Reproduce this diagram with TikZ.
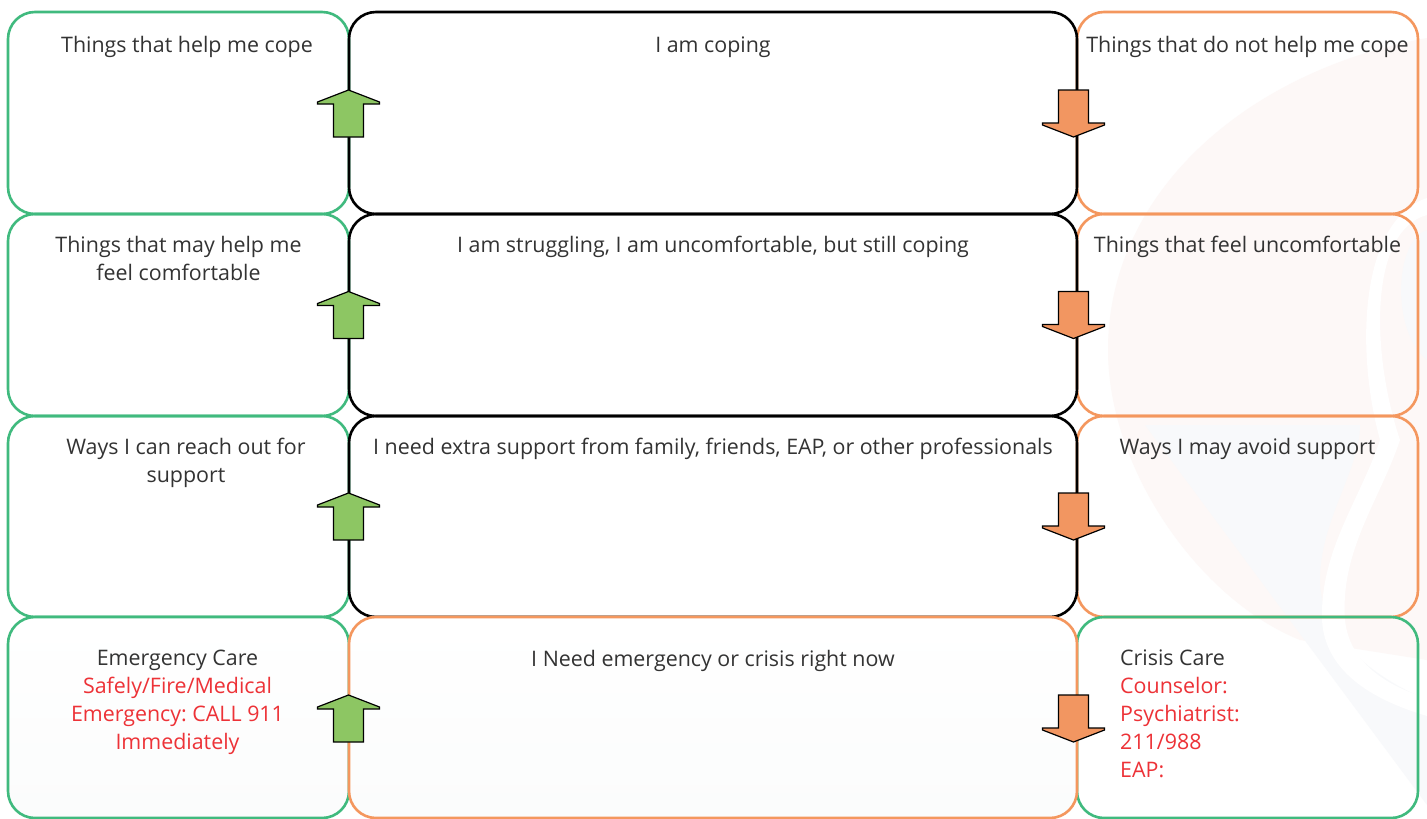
\documentclass[tikz,border=0pt]{standalone}
\usepackage{fontspec}
\setmainfont{Open Sans}
\definecolor{gbord}{RGB}{64,186,126}
\definecolor{obord}{RGB}{244,151,94}
\definecolor{gfill}{RGB}{141,198,99}
\definecolor{ofill}{RGB}{242,150,97}
\definecolor{txt}{RGB}{51,51,51}
\definecolor{redtxt}{RGB}{237,50,55}
\definecolor{pinkbg}{RGB}{253,248,247}
\definecolor{bluebg}{RGB}{248,249,251}
\definecolor{lowgray}{RGB}{251,252,252}
\tikzset{
  cell/.style={rounded corners=27pt, line width=2.6pt, inner sep=0pt, outer sep=0pt},
  sidecell/.style={cell, minimum width=341pt},
  midcell/.style={cell, minimum width=728pt, draw=black},
  lbl/.style={font=\fontsize{21.4}{27.8}\selectfont\frenchspacing, text=txt, inner sep=0pt, align=center, anchor=base},
  uparrow/.style={fill=gfill, draw=black, line width=1.2pt, line join=miter},
  downarrow/.style={fill=ofill, draw=black, line width=1.2pt, line join=miter}
}
\newcommand{\UpArr}[2]{%
  \draw[uparrow] (#1,#2) -- (#1+31,#2+12) -- (#1+31,#2+14) -- (#1+15,#2+14) -- (#1+15,#2+47)
   -- (#1-15,#2+47) -- (#1-15,#2+14) -- (#1-31,#2+14) -- (#1-31,#2+12) -- cycle;}
\newcommand{\DownArr}[2]{%
  \draw[downarrow] (#1,#2+47) -- (#1+31,#2+35) -- (#1+31,#2+33) -- (#1+15,#2+33) -- (#1+15,#2)
   -- (#1-15,#2) -- (#1-15,#2+33) -- (#1-31,#2+33) -- (#1-31,#2+35) -- cycle;}
\begin{document}
\begin{tikzpicture}[x=1pt,y=-1pt]
\useasboundingbox[fill=white] (0,0) rectangle (1427,819);
% faint watermark
\fill[pinkbg] (1427,38) .. controls (1250,70) and (1108,190) .. (1108,350)
  .. controls (1108,470) and (1200,600) .. (1300,640) -- (1427,660) -- cycle;
\fill[bluebg] (1145,425) -- (1360,425) .. controls (1360,470) and (1320,520) .. (1320,580)
  .. controls (1320,640) and (1380,680) .. (1427,700) -- (1427,805) -- cycle;
\fill[bluebg] (1427,230) .. controls (1395,240) and (1390,330) .. (1427,360) -- cycle;
\fill[white] (1427,215) .. controls (1370,230) and (1370,350) .. (1400,440)
  .. controls (1380,500) and (1340,550) .. (1345,620) .. controls (1350,670) and (1400,690) .. (1427,698) -- (1427,716)
  .. controls (1390,705) and (1325,680) .. (1322,620) .. controls (1320,550) and (1360,500) .. (1380,440)
  .. controls (1355,350) and (1360,220) .. (1427,198) -- cycle;
% side cells
\node[sidecell, draw=gbord, minimum height=202pt] (L1) at (178.5,113) {};
\node[sidecell, draw=gbord, minimum height=202pt] (L2) at (178.5,315) {};
\node[sidecell, draw=gbord, minimum height=201pt] (L3) at (178.5,516.5) {};
\node[sidecell, draw=gbord, minimum height=201pt, top color=white, bottom color=lowgray] (L4) at (178.5,717.5) {};
\node[sidecell, draw=obord, minimum height=202pt] (R1) at (1247.5,113) {};
\node[sidecell, draw=obord, minimum height=202pt] (R2) at (1247.5,315) {};
\node[sidecell, draw=obord, minimum height=201pt] (R3) at (1247.5,516.5) {};
\node[sidecell, draw=gbord, minimum height=201pt] (R4) at (1247.5,717.5) {};
% middle cells
\node[midcell, minimum height=202pt] (M1) at (713,113) {};
\node[midcell, minimum height=202pt] (M2) at (713,315) {};
\node[midcell, minimum height=201pt] (M3) at (713,516.5) {};
\node[midcell, draw=obord, minimum height=201pt, top color=white, bottom color=lowgray] (M4) at (713,717.5) {};
% texts (base = baseline of last line)
\node[lbl] (tL1) at (187,52) {Things that help me cope};
\node[lbl] (tM1) at (713,52) {I am coping};
\node[lbl] (tR1) at (1247.5,52) {Things that do not help me cope};
\node[lbl] (tL2) at (178.5,280.5) {Things that may help me\\feel comfortable};
\node[lbl] (tM2) at (713,252) {I am struggling, I am uncomfortable, but still coping};
\node[lbl] (tR2) at (1247.5,252) {Things that feel uncomfortable};
\node[lbl] (tL3) at (186,482) {Ways I can reach out for\\support};
\node[lbl] (tM3) at (713,454) {I need extra support from family, friends, EAP, or other professionals};
\node[lbl] (tR3) at (1247.5,454) {Ways I may avoid support};
\node[lbl] (tL4) at (177.5,749) {Emergency Care\\\textcolor{redtxt}{Safely/Fire/Medical}\\\textcolor{redtxt}{Emergency: CALL 911}\\\textcolor{redtxt}{Immediately}};
\node[lbl] (tM4) at (713,666) {I Need emergency or crisis right now};
\node[lbl, align=left, anchor=base west] (tR4) at (1120,777) {Crisis Care\\\textcolor{redtxt}{Counselor:}\\\textcolor{redtxt}{Psychiatrist:}\\\textcolor{redtxt}{211/988}\\\textcolor{redtxt}{EAP:}};
% arrows
\UpArr{348.5}{90}
\UpArr{348.5}{291.5}
\UpArr{348.5}{493}
\UpArr{348.5}{695}
\DownArr{1073.5}{90}
\DownArr{1073.5}{291.5}
\DownArr{1073.5}{493}
\DownArr{1073.5}{695}
\end{tikzpicture}
\end{document}
